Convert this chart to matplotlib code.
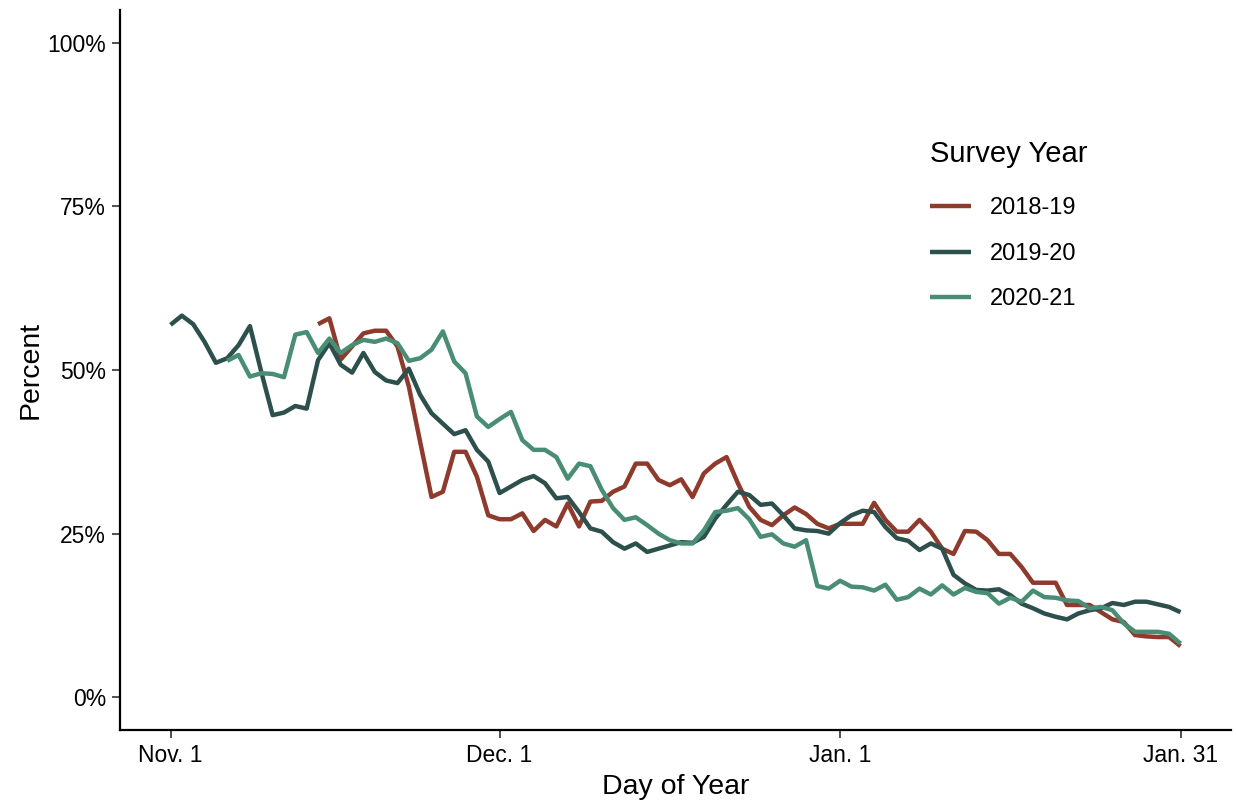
import numpy as np
import matplotlib
matplotlib.use("Agg")
import matplotlib.pyplot as plt

plt.rcParams["font.family"] = ["Liberation Sans", "DejaVu Sans"]

# Share of respondents (%) by survey day; day 0 = Nov. 1
pct_2019_20 = [56.9, 58.3, 57.0, 54.3, 51.1, 51.8, 53.8, 56.7, 49.7, 43.1,
               43.5, 44.5, 44.1, 51.5, 54.1, 50.8, 49.6, 52.6, 49.7, 48.4,
               48.0, 50.2, 46.2, 43.4, 41.8, 40.2, 40.8, 37.8, 36.0, 31.2,
               32.2, 33.2, 33.8, 32.7, 30.4, 30.6, 28.3, 25.8, 25.3, 23.7,
               22.7, 23.5, 22.2, 22.7, 23.2, 23.7, 23.6, 24.5, 27.3, 29.4,
               31.4, 30.9, 29.4, 29.6, 27.8, 25.8, 25.5, 25.4, 25.0, 26.6,
               27.8, 28.5, 28.3, 26.0, 24.3, 23.9, 22.5, 23.5, 22.7, 18.7,
               17.4, 16.4, 16.3, 16.5, 15.6, 14.3, 13.6, 12.8, 12.3, 11.9,
               12.8, 13.3, 13.6, 14.4, 14.1, 14.6, 14.6, 14.2, 13.8, 13.0]
start_2019_20 = 0

pct_2018_19 = [57.0, 57.9, 51.6, 53.6, 55.6, 56.0, 56.0, 53.6, 47.5, 39.0,
               30.6, 31.4, 37.5, 37.5, 33.7, 27.8, 27.2, 27.2, 28.1, 25.4,
               27.1, 26.1, 29.6, 26.1, 29.9, 30.0, 31.4, 32.2, 35.7, 35.7,
               33.2, 32.4, 33.3, 30.6, 34.2, 35.7, 36.7, 32.7, 29.1, 27.1,
               26.3, 27.8, 29.0, 28.0, 26.5, 25.8, 26.5, 26.5, 26.5, 29.7,
               27.1, 25.3, 25.3, 27.1, 25.3, 22.7, 21.9, 25.4, 25.3, 24.0,
               21.9, 21.9, 19.9, 17.5, 17.5, 17.5, 14.1, 14.1, 14.1, 13.0,
               11.9, 11.5, 9.5, 9.3, 9.2, 9.2, 7.8]
start_2018_19 = 13

pct_2020_21 = [51.4, 52.3, 49.0, 49.5, 49.4, 48.9, 55.4, 55.8, 52.6, 54.8,
               52.6, 53.8, 54.6, 54.3, 54.8, 54.1, 51.4, 51.8, 53.1, 55.9,
               51.3, 49.5, 42.9, 41.3, 42.5, 43.6, 39.3, 37.8, 37.8, 36.7,
               33.4, 35.7, 35.3, 31.7, 28.9, 27.1, 27.5, 26.3, 25.0, 24.0,
               23.5, 23.5, 25.5, 28.3, 28.5, 28.9, 27.2, 24.5, 24.9, 23.5,
               23.0, 24.0, 17.0, 16.6, 17.8, 16.9, 16.8, 16.3, 17.2, 14.9,
               15.3, 16.6, 15.7, 17.1, 15.7, 16.7, 16.1, 15.9, 14.3, 15.2,
               14.6, 16.3, 15.3, 15.2, 14.8, 14.7, 13.6, 13.8, 13.3, 11.3,
               10.0, 10.0, 10.0, 9.7, 8.2]
start_2020_21 = 5

series_labels = ["2018-19", "2019-20", "2020-21"]
series_colors = ["#8E3A2D", "#2D504D", "#498E74"]

x_tick_days = [0, 29, 59, 89]
x_tick_labels = ["Nov. 1", "Dec. 1", "Jan. 1", "Jan. 31"]
y_ticks = [0, 25, 50, 75, 100]

fig = plt.figure(figsize=(12.36, 8.01), dpi=100)
ax = fig.add_axes([120 / 1236, 71 / 801, 1111 / 1236, 720 / 801])

series = [(pct_2018_19, start_2018_19), (pct_2019_20, start_2019_20),
          (pct_2020_21, start_2020_21)]
for (vals, start), lab, col in zip(series, series_labels, series_colors):
    days = np.arange(start, start + len(vals))
    ax.plot(days, vals, color=col, lw=3.2, label=lab,
            solid_joinstyle="round", solid_capstyle="butt")

last_day = x_tick_days[-1]
ax.set_xlim(-0.05 * last_day, last_day * 1.05)
ax.set_ylim(-5, 105)
ax.set_xticks(x_tick_days)
ax.set_xticklabels(x_tick_labels)
ax.set_yticks(y_ticks)
ax.set_yticklabels([f"{v}%" for v in y_ticks])

for side in ["top", "right"]:
    ax.spines[side].set_visible(False)
for side in ["left", "bottom"]:
    ax.spines[side].set_linewidth(1.6)
    ax.spines[side].set_color("black")
ax.tick_params(axis="both", length=6, width=1.2, color="#333333",
               labelsize=16.5, labelcolor="black", pad=4)

ax.set_xlabel("Day of Year", fontsize=20.5, labelpad=5)
ax.set_ylabel("Percent", fontsize=20.5, labelpad=3)

leg = ax.legend(loc="upper left", bbox_to_anchor=(930 / 1236, 1 - 140 / 801),
                bbox_transform=fig.transFigure, frameon=False,
                title="Survey Year", title_fontsize=21, fontsize=17,
                handlelength=1.75, handletextpad=0.8, labelspacing=1.0,
                borderpad=0, borderaxespad=0, alignment="left")
leg._legend_box.sep = 21
for line in leg.get_lines():
    line.set_linewidth(3.2)

fig.savefig("out.png", dpi=100)
